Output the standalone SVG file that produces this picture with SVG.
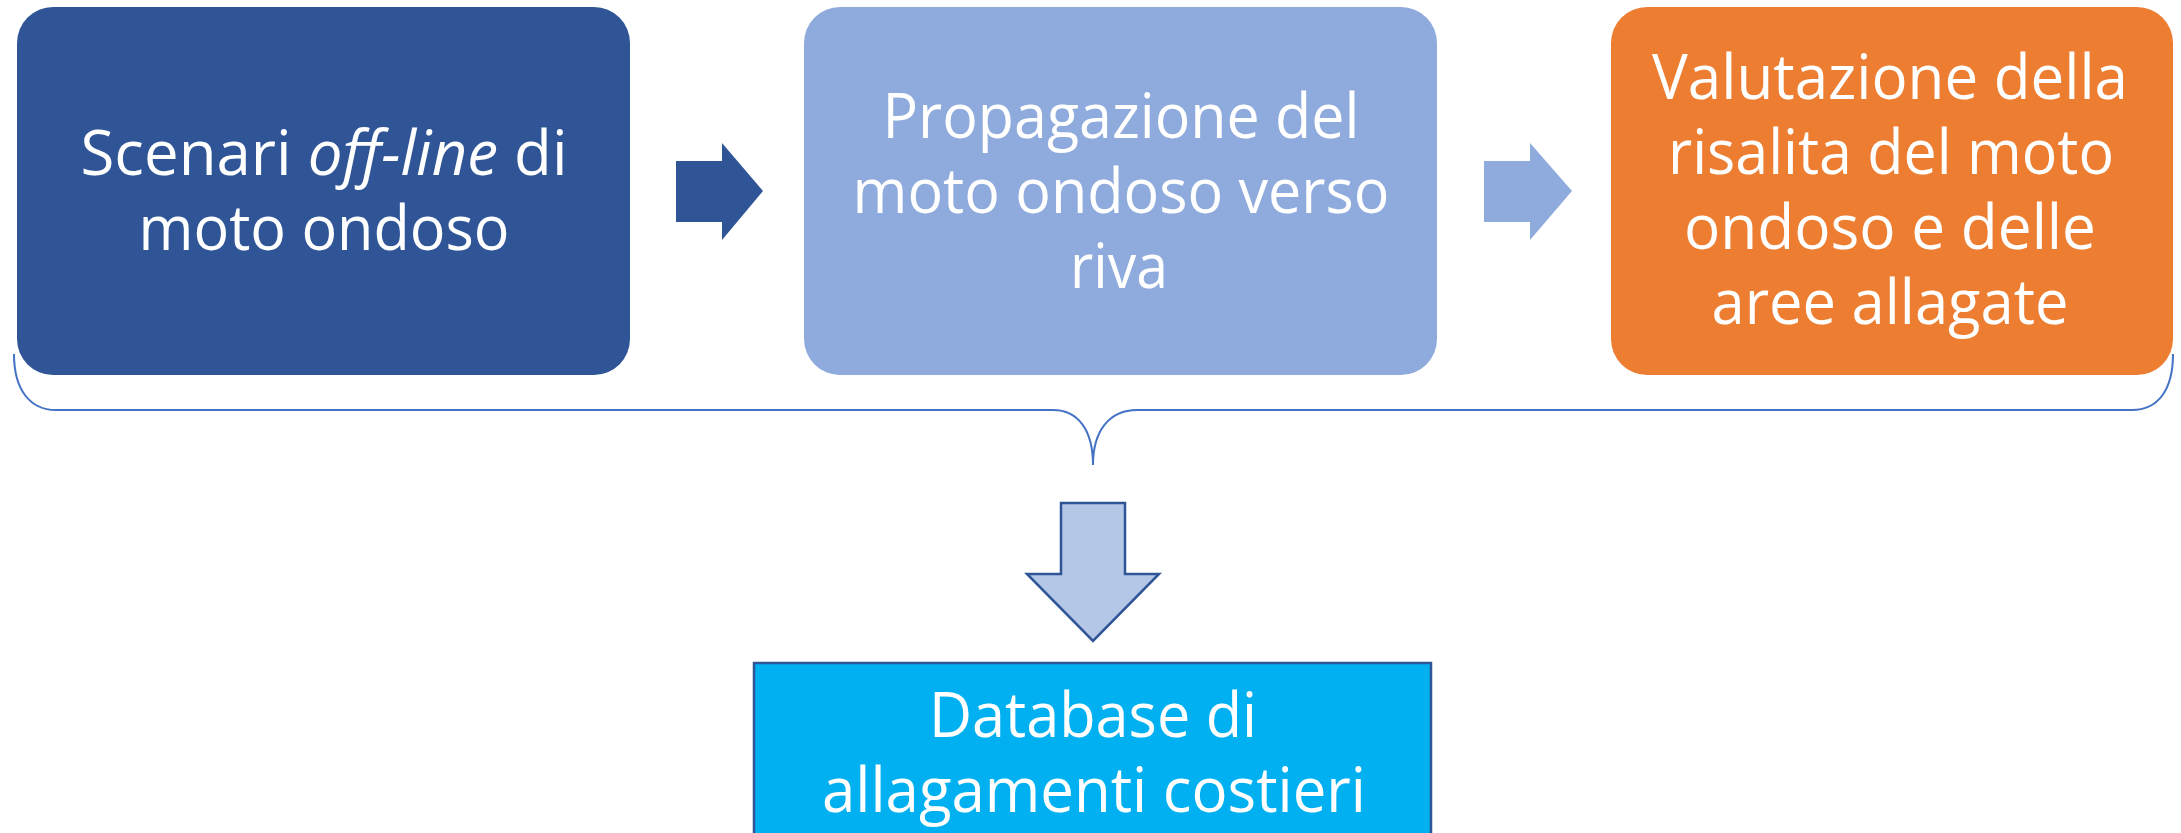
<svg xmlns="http://www.w3.org/2000/svg" width="2181" height="833" viewBox="0 0 2181 833">
<style>
.t{font-family:"Open Sans","Noto Sans",sans-serif;font-size:62px;fill:#FFFFFF;text-anchor:middle}
.br{fill:none;stroke:#4472C4;stroke-width:2}
</style>
<rect width="2181" height="833" fill="#FFFFFF"/>
<g id="connectors">
<path d="M676,161 H722 V143 L763,191 L722,240 V222 H676 Z" fill="#2F5597"/>
<path d="M1484,161 H1530 V143 L1572,191 L1530,240 V222 H1484 Z" fill="#8FAADC"/>
<path class="br" d="M14,354 C14,390 30,410 56,410 L1053,410 C1078,410 1093,430 1093,465 C1093,430 1110,410 1137,410 L2132,410 C2158,410 2173,390 2173,354"/>
<path d="M1061,503 H1125 V574 H1159 L1093,641 L1027,574 H1061 Z" fill="#B4C7E7" stroke="#2F5597" stroke-width="2.5" stroke-linejoin="miter"/>
</g>
<g id="node1">
<rect x="17" y="7" width="613" height="368" rx="36" ry="36" fill="#2F5597"/>
<text class="t" x="324" y="175" textLength="487" lengthAdjust="spacingAndGlyphs">Scenari <tspan font-style="italic">off-line</tspan> di</text>
<text class="t" x="324" y="250" textLength="371" lengthAdjust="spacingAndGlyphs">moto ondoso</text>
</g>
<g id="node2">
<rect x="804" y="7" width="633" height="368" rx="36" ry="36" fill="#8FAADC"/>
<text class="t" x="1121" y="138" textLength="477" lengthAdjust="spacingAndGlyphs">Propagazione del</text>
<text class="t" x="1121" y="213" textLength="537" lengthAdjust="spacingAndGlyphs">moto ondoso verso</text>
<text class="t" x="1119" y="288" textLength="98" lengthAdjust="spacingAndGlyphs">riva</text>
</g>
<g id="node3">
<rect x="1611" y="7" width="562" height="368" rx="36" ry="36" fill="#ED7D31"/>
<text class="t" x="1890" y="99" textLength="476" lengthAdjust="spacingAndGlyphs">Valutazione della</text>
<text class="t" x="1891" y="174" textLength="446" lengthAdjust="spacingAndGlyphs">risalita del moto</text>
<text class="t" x="1890" y="249" textLength="412" lengthAdjust="spacingAndGlyphs">ondoso e delle</text>
<text class="t" x="1890" y="324" textLength="357" lengthAdjust="spacingAndGlyphs">aree allagate</text>
</g>
<g id="node4">
<rect x="754" y="663" width="677" height="200" fill="#00B0F0" stroke="#2F5597" stroke-width="2.5"/>
<text class="t" x="1093" y="737" textLength="328" lengthAdjust="spacingAndGlyphs">Database di</text>
<text class="t" x="1094" y="812" textLength="544" lengthAdjust="spacingAndGlyphs">allagamenti costieri</text>
</g>
</svg>
